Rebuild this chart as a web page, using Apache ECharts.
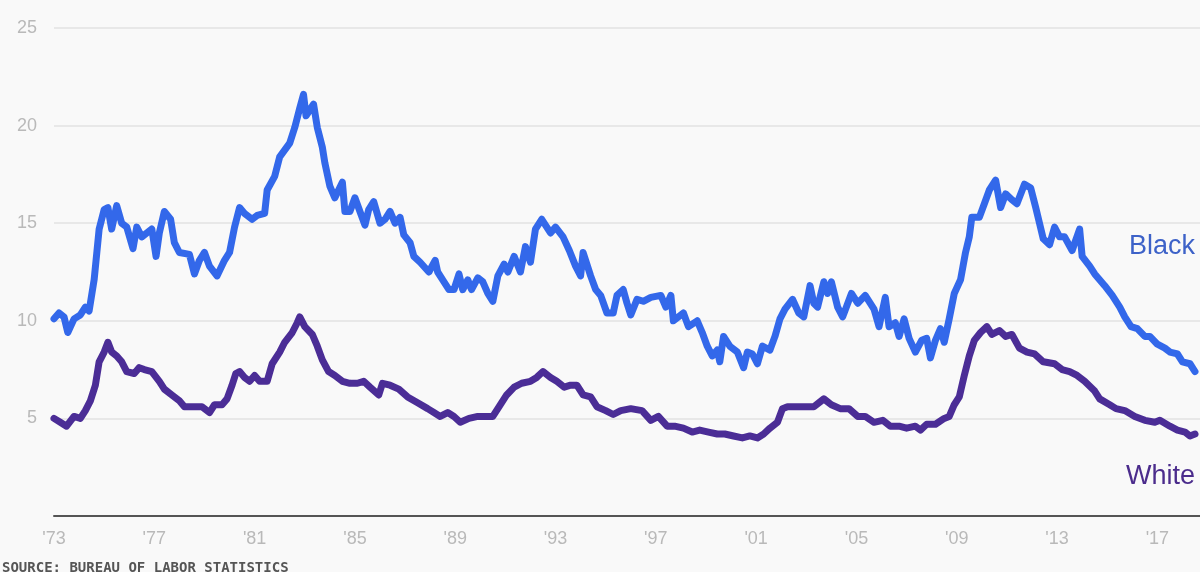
<!DOCTYPE html>
<html>
<head>
<meta charset="utf-8">
<script src="https://cdn.jsdelivr.net/npm/echarts@6/dist/echarts.min.js"></script>
<style>
html,body{margin:0;padding:0;background:#f9f9f9;}
#chart{width:1200px;height:572px;}
</style>
</head>
<body>
<div id="chart"></div>
<script>
// x values: years since January 1973
const blackYearsSince1973 = [0,0.2,0.4,0.55,0.8,1.05,1.25,1.4,1.6,1.8,2.0,2.15,2.3,2.5,2.7,2.9,3.15,3.3,3.5,3.7,3.9,4.07,4.2,4.4,4.65,4.8,5.0,5.4,5.6,5.8,6.0,6.2,6.5,6.8,7.0,7.2,7.4,7.6,7.9,8.1,8.4,8.5,8.8,9.0,9.4,9.6,9.8,9.95,10.05,10.2,10.35,10.5,10.7,10.8,11.0,11.2,11.5,11.6,11.8,12.0,12.2,12.4,12.55,12.75,13.0,13.2,13.4,13.6,13.8,13.95,14.2,14.35,14.6,14.95,15.2,15.3,15.5,15.75,15.95,16.15,16.3,16.5,16.65,16.9,17.1,17.3,17.5,17.7,17.95,18.1,18.35,18.6,18.8,19.0,19.2,19.45,19.8,20.0,20.3,20.55,20.8,21.0,21.1,21.4,21.6,21.8,22.05,22.3,22.45,22.7,22.85,23.0,23.25,23.5,23.8,24.2,24.4,24.6,24.7,25.1,25.3,25.65,25.85,26.05,26.25,26.45,26.55,26.7,26.95,27.25,27.5,27.65,27.85,28.05,28.25,28.55,28.75,28.95,29.15,29.45,29.7,29.9,30.15,30.3,30.45,30.7,30.85,31.0,31.25,31.45,31.8,32.05,32.35,32.7,32.9,33.15,33.3,33.55,33.7,33.9,34.1,34.35,34.6,34.8,34.95,35.15,35.35,35.5,35.7,35.9,36.15,36.35,36.5,36.6,36.9,37.1,37.3,37.55,37.75,37.95,38.2,38.4,38.7,38.95,39.15,39.3,39.45,39.7,39.9,40.1,40.3,40.6,40.9,41.0,41.3,41.5,41.9,42.2,42.5,42.7,42.95,43.2,43.5,43.7,44.0,44.3,44.5,44.8,45.0,45.3,45.5];
const blackRate = [10.1,10.4,10.2,9.4,10.1,10.3,10.7,10.5,12.1,14.7,15.7,15.8,14.7,15.9,15.0,14.8,13.7,14.8,14.3,14.5,14.7,13.3,14.5,15.6,15.2,14.0,13.5,13.4,12.4,13.1,13.5,12.8,12.3,13.1,13.5,14.8,15.8,15.5,15.2,15.4,15.5,16.7,17.4,18.4,19.1,19.9,20.9,21.6,20.5,20.8,21.1,19.9,18.9,18.1,16.9,16.3,17.1,15.6,15.6,16.3,15.6,14.9,15.7,16.1,15.0,15.2,15.6,15.0,15.3,14.4,14.0,13.3,13.0,12.5,13.1,12.5,12.1,11.6,11.6,12.4,11.6,12.1,11.6,12.2,12.0,11.4,11.0,12.3,12.9,12.5,13.3,12.5,13.8,13.0,14.7,15.2,14.5,14.8,14.3,13.6,12.8,12.3,13.5,12.3,11.6,11.3,10.4,10.4,11.3,11.6,10.9,10.3,11.1,11.0,11.2,11.3,10.7,11.3,10.0,10.4,9.7,10.0,9.4,8.7,8.2,8.5,7.9,9.2,8.7,8.4,7.6,8.4,8.3,7.8,8.7,8.5,9.2,10.1,10.6,11.1,10.4,10.2,11.8,10.9,10.7,12.0,11.4,12.0,10.7,10.2,11.4,10.9,11.3,10.6,9.7,11.2,9.7,9.9,9.2,10.1,9.1,8.4,9.0,9.1,8.1,9.0,9.6,8.9,10.1,11.4,12.1,13.5,14.3,15.3,15.3,16.0,16.7,17.2,15.8,16.5,16.2,16.0,17.0,16.8,15.8,15.0,14.2,13.9,14.8,14.3,14.3,13.6,14.7,13.3,12.8,12.4,11.8,11.3,10.7,10.2,9.7,9.6,9.2,9.2,8.8,8.6,8.4,8.3,7.9,7.8,7.4];

const whiteYearsSince1973 = [0,0.25,0.5,0.8,1.05,1.25,1.45,1.65,1.8,2.0,2.15,2.3,2.5,2.7,2.9,3.2,3.4,3.6,3.9,4.2,4.4,4.7,5.0,5.2,5.6,5.9,6.2,6.4,6.7,6.9,7.1,7.25,7.4,7.6,7.8,8.0,8.2,8.5,8.7,9.0,9.2,9.5,9.7,9.8,10.0,10.3,10.5,10.7,10.95,11.2,11.5,11.8,12.1,12.35,12.6,12.95,13.1,13.4,13.75,14.1,14.5,14.9,15.15,15.4,15.7,15.95,16.2,16.55,16.9,17.2,17.5,17.75,18.05,18.35,18.65,19.0,19.25,19.5,19.8,20.05,20.35,20.6,20.85,21.1,21.4,21.65,22.0,22.3,22.6,23.0,23.45,23.8,24.1,24.45,24.75,25.1,25.45,25.75,26.1,26.45,26.75,27.1,27.45,27.75,28.05,28.3,28.55,28.85,29.05,29.25,29.55,29.9,30.3,30.7,31.0,31.35,31.7,32.05,32.35,32.7,33.05,33.35,33.7,34.0,34.35,34.55,34.8,35.15,35.5,35.7,35.9,36.1,36.3,36.5,36.7,36.95,37.2,37.4,37.7,37.95,38.2,38.5,38.8,39.1,39.45,39.9,40.2,40.5,40.8,41.1,41.5,41.7,42.1,42.35,42.7,43.1,43.5,43.9,44.1,44.5,44.8,45.1,45.3,45.5];
const whiteRate = [5.0,4.8,4.6,5.1,5.0,5.4,5.9,6.7,7.9,8.4,8.9,8.4,8.2,7.9,7.4,7.3,7.6,7.5,7.4,6.9,6.5,6.2,5.9,5.6,5.6,5.6,5.3,5.7,5.7,6.0,6.7,7.3,7.4,7.1,6.9,7.2,6.9,6.9,7.8,8.4,8.9,9.4,9.9,10.2,9.7,9.3,8.7,8.0,7.4,7.2,6.9,6.8,6.8,6.9,6.6,6.2,6.8,6.7,6.5,6.1,5.8,5.5,5.3,5.1,5.3,5.1,4.8,5.0,5.1,5.1,5.1,5.6,6.2,6.6,6.8,6.9,7.1,7.4,7.1,6.9,6.6,6.7,6.7,6.2,6.1,5.6,5.4,5.2,5.4,5.5,5.4,4.9,5.1,4.6,4.6,4.5,4.3,4.4,4.3,4.2,4.2,4.1,4.0,4.1,4.0,4.2,4.5,4.8,5.5,5.6,5.6,5.6,5.6,6.0,5.7,5.5,5.5,5.1,5.1,4.8,4.9,4.6,4.6,4.5,4.6,4.4,4.7,4.7,5.0,5.1,5.7,6.1,7.2,8.2,9.0,9.4,9.7,9.3,9.5,9.2,9.3,8.6,8.4,8.3,7.9,7.8,7.5,7.4,7.2,6.9,6.4,6.0,5.7,5.5,5.4,5.1,4.9,4.8,4.9,4.6,4.4,4.3,4.1,4.2];

const startYear = 1973;
const yTicks = [0, 5, 10, 15, 20, 25];
const seriesNames = ['Black', 'White'];
const sourceText = 'SOURCE: BUREAU OF LABOR STATISTICS';

const chart = echarts.init(document.getElementById('chart'));
const pair = (xs, ys) => xs.map((x, i) => [x, ys[i]]);

chart.setOption({
  backgroundColor: '#f9f9f9',
  animation: false,
  grid: { left: 54, right: 0, top: 28, bottom: 56 },
  xAxis: {
    type: 'value',
    min: 0,
    max: 45.7,
    interval: 4,
    splitLine: { show: false },
    axisTick: { show: false },
    axisLine: { show: true, lineStyle: { color: '#555', width: 2 } },
    axisLabel: {
      color: '#b9b9b9',
      fontSize: 18,
      fontFamily: 'Liberation Sans, Arial, sans-serif',
      margin: 14,
      showMaxLabel: false,
      formatter: v => "'" + String((startYear + v) % 100).padStart(2, '0')
    }
  },
  yAxis: {
    type: 'value',
    min: yTicks[0],
    max: yTicks[yTicks.length - 1],
    interval: 5,
    axisLine: { show: false },
    axisTick: { show: false },
    splitLine: { lineStyle: { color: '#e2e2e2', width: 1.5 } },
    axisLabel: {
      color: '#b9b9b9',
      fontSize: 18,
      fontFamily: 'Liberation Sans, Arial, sans-serif',
      margin: 17,
      formatter: v => v === 0 ? '' : String(v)
    }
  },
  series: [
    {
      name: seriesNames[0],
      type: 'line',
      showSymbol: false,
      data: pair(blackYearsSince1973, blackRate),
      lineStyle: { color: '#3368ea', width: 7, join: 'round', cap: 'round' },
      z: 3
    },
    {
      name: seriesNames[1],
      type: 'line',
      showSymbol: false,
      data: pair(whiteYearsSince1973, whiteRate),
      lineStyle: { color: '#4b2d96', width: 7, join: 'round', cap: 'round' },
      z: 2
    }
  ],
  graphic: [
    {
      type: 'text', right: 5, top: 233,
      style: { text: seriesNames[0], fill: '#3d62c8', fontSize: 27, fontFamily: 'Liberation Sans, Arial, sans-serif' }
    },
    {
      type: 'text', right: 5, top: 463,
      style: { text: seriesNames[1], fill: '#4b2c8c', fontSize: 27, fontFamily: 'Liberation Sans, Arial, sans-serif' }
    },
    {
      type: 'text', left: 2, top: 561,
      style: { text: sourceText, fill: '#555', fontSize: 14, fontWeight: 'bold', fontFamily: 'DejaVu Sans Mono, monospace' }
    }
  ]
});
</script>
</body>
</html>
